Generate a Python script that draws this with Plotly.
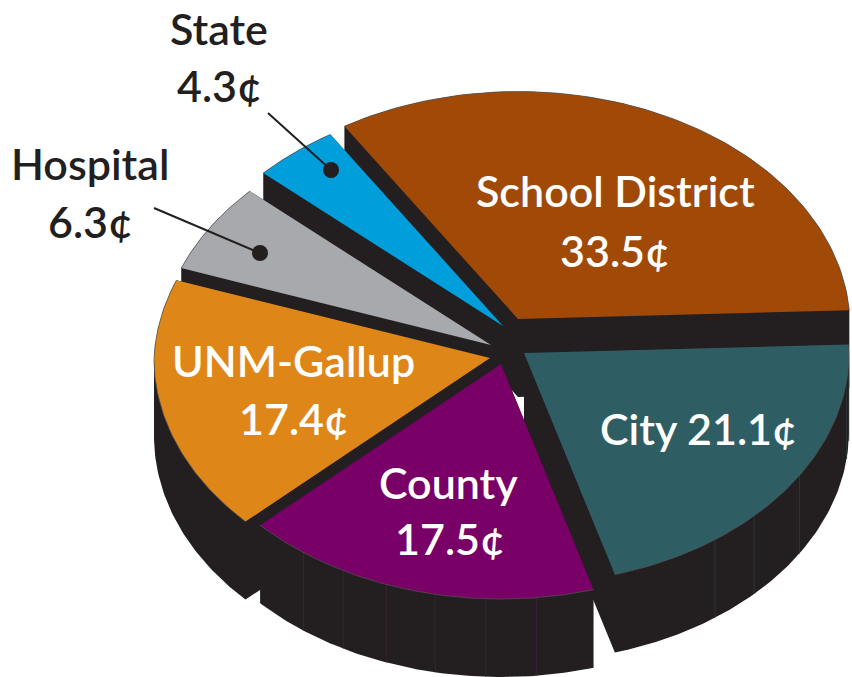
import numpy as np
import plotly.graph_objects as go

# Data
categories = ["School District", "City", "County", "UNM-Gallup", "Hospital", "State"]
cents = [33.5, 21.1, 17.5, 17.4, 6.3, 4.3]

# Styles / geometry of the exploded tilted pie
colors = ["#a14a08", "#2e5e64", "#790066", "#df8619", "#a7a9ac", "#009fdb"]
seam_tint = ["#33261c", "#2a3538", "#3a2236", "#3d3020", "#333333", "#1f3540"]
apex_x = [518, 524, 501, 490, 491, 503]
apex_y = [319, 353, 364, 358, 345, 326]
radius = [332, 325, 331, 336, 332, 330]
# faint vertical seams on the side walls, as fractions along each slice's arc
seams = [[], [0.06, 0.12, 0.45, 0.62, 0.74], [0.16, 0.30, 0.44, 0.58, 0.71, 0.84], [0.98], [], []]
DARK = "#231f20"
START = -32.6
TILT = 0.71
DEPTH = 78


def hull(points):
    pts = sorted(set(points))
    def half(seq):
        out = []
        for p in seq:
            while len(out) > 1 and ((out[-1][0]-out[-2][0])*(p[1]-out[-2][1])
                                    - (out[-1][1]-out[-2][1])*(p[0]-out[-2][0])) <= 0:
                out.pop()
            out.append(p)
        return out[:-1]
    return half(pts) + half(pts[::-1])


def rim(i, angle_deg):
    t = np.radians(angle_deg)
    r = radius[i] * (1 - 0.035 * np.clip(np.cos(t), 0, None))
    return apex_x[i] + r * np.sin(t), apex_y[i] - r * TILT * np.cos(t)


fig = go.Figure()
total = sum(cents)
edges = START + np.cumsum([0] + cents) / total * 360
tops, arcs = [], []
for i, name in enumerate(categories):
    ax, ay = rim(i, np.linspace(edges[i], edges[i+1], 90))
    xs = [apex_x[i]] + list(ax)
    ys = [apex_y[i]] + list(ay)
    tops.append((xs + [xs[0]], ys + [ys[0]]))
    arcs.append((list(ax), list(ay)))
    pts = [(float(x), float(y)) for x, y in zip(xs, ys)]
    pts += [(x, y + DEPTH) for x, y in pts]
    h = hull(pts)
    fig.add_trace(go.Scatter(x=[p[0] for p in h] + [h[0][0]], y=[p[1] for p in h] + [h[0][1]],
                             mode="lines", fill="toself", fillcolor=DARK,
                             line=dict(color=DARK, width=0), hoverinfo="skip"))

for i in range(len(categories)):
    sx, sy = [], []
    for f in seams[i]:
        x0, y0 = rim(i, edges[i] + f * (edges[i+1] - edges[i]))
        sx += [float(x0), float(x0), None]
        sy += [float(y0), float(y0) + DEPTH, None]
    if sx:
        fig.add_trace(go.Scatter(x=sx, y=sy, mode="lines", hoverinfo="skip",
                                 line=dict(color=seam_tint[i], width=1)))

for i, name in enumerate(categories):
    fig.add_trace(go.Scatter(x=tops[i][0], y=tops[i][1], mode="lines", fill="toself",
                             fillcolor=colors[i], line=dict(color=colors[i], width=0),
                             name=name, hoverinfo="name"))
    fig.add_trace(go.Scatter(x=arcs[i][0], y=arcs[i][1], mode="lines",
                             line=dict(color="#555555", width=0.7), hoverinfo="skip"))

# Leader lines to the two small slices
fig.add_trace(go.Scatter(x=[268, 331], y=[113, 170], mode="lines+markers", hoverinfo="skip",
                         line=dict(color=DARK, width=2),
                         marker=dict(color=DARK, size=[0, 16], opacity=1, line=dict(width=0))))
fig.add_trace(go.Scatter(x=[154, 260], y=[208, 253], mode="lines+markers", hoverinfo="skip",
                         line=dict(color=DARK, width=2),
                         marker=dict(color=DARK, size=[0, 16], opacity=1, line=dict(width=0))))


def amt(name):
    return f"{cents[categories.index(name)]}¢"


text_items = [
    ("State", 219, 28, DARK), (amt("State"), 219, 85, DARK),
    ("Hospital", 90, 163, DARK), (amt("Hospital"), 90, 221, DARK),
    ("School District", 615, 190, "white"), (amt("School District"), 615, 250, "white"),
    (f"City {amt('City')}", 698, 428, "white"),
    ("UNM-Gallup", 293, 360, "white"), (amt("UNM-Gallup"), 294, 418, "white"),
    ("County", 448, 482, "white"), (amt("County"), 450, 538, "white"),
]
annotations = [dict(x=x, y=y, text=s, showarrow=False, xanchor="center", yanchor="middle",
                    font=dict(family="Lato", size=43, color=c, weight=600))
               for s, x, y, c in text_items]

fig.update_layout(
    width=852, height=677, autosize=False, showlegend=False,
    margin=dict(l=0, r=0, t=0, b=0),
    paper_bgcolor="white", plot_bgcolor="white",
    xaxis=dict(range=[0, 852], visible=False, fixedrange=True),
    yaxis=dict(range=[677, 0], visible=False, fixedrange=True),
    annotations=annotations,
)
fig.write_html("out.html", config=dict(displayModeBar=False),
               post_script="document.body.style.margin='0';document.body.style.overflow='hidden';")
